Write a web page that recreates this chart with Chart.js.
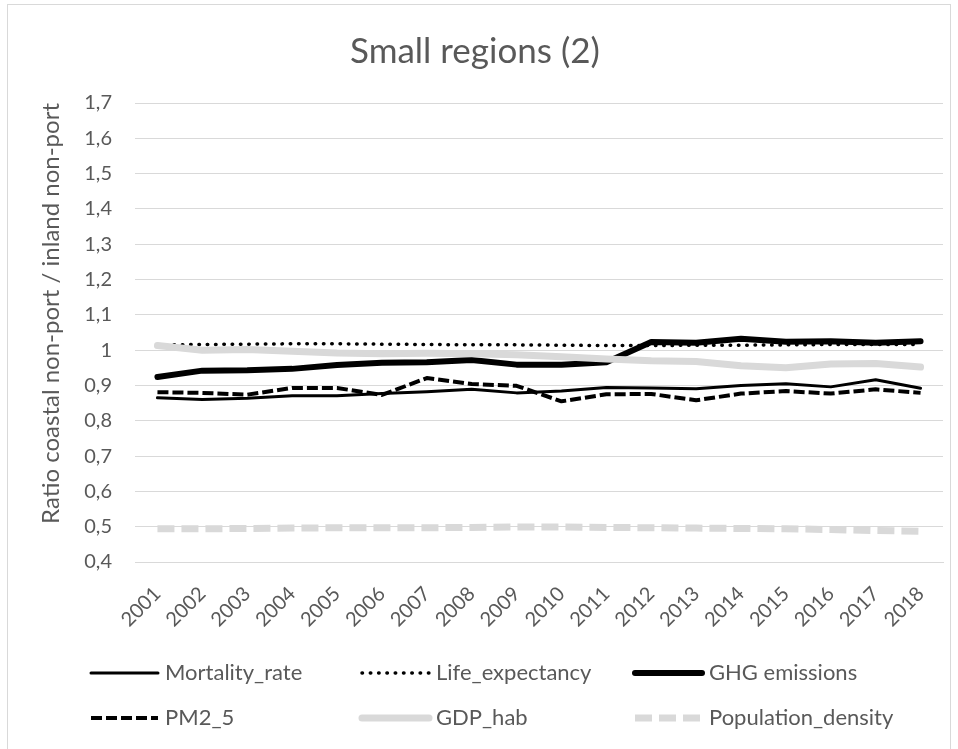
<!DOCTYPE html>
<html lang="en">
<head>
<meta charset="utf-8">
<title>Small regions (2)</title>
<script src="https://cdn.jsdelivr.net/npm/chart.js@4/dist/chart.umd.min.js"></script>
<style>
  html, body { margin: 0; padding: 0; background: #ffffff; }
  canvas { display: block; }
</style>
</head>
<body>
<canvas id="canvas" width="958" height="749"></canvas>
<script>
// values
var years = ['2001', '2002', '2003', '2004', '2005', '2006', '2007', '2008', '2009',
             '2010', '2011', '2012', '2013', '2014', '2015', '2016', '2017', '2018'];
var mortalityRate = [0.865, 0.860, 0.864, 0.871, 0.871, 0.877, 0.882, 0.889, 0.879,
                     0.884, 0.894, 0.893, 0.891, 0.900, 0.905, 0.896, 0.916, 0.892];
var lifeExpectancy = [1.015, 1.016, 1.017, 1.018, 1.018, 1.017, 1.016, 1.015, 1.015,
                      1.014, 1.013, 1.013, 1.014, 1.014, 1.015, 1.016, 1.016, 1.016];
var ghgEmissions = [0.924, 0.942, 0.943, 0.947, 0.958, 0.964, 0.966, 0.972, 0.959,
                    0.959, 0.966, 1.023, 1.021, 1.032, 1.024, 1.025, 1.021, 1.025];
var pm25 = [0.881, 0.879, 0.874, 0.893, 0.893, 0.873, 0.921, 0.904, 0.899,
            0.855, 0.875, 0.876, 0.858, 0.877, 0.884, 0.877, 0.889, 0.879];
var gdpHab = [1.013, 1.000, 1.002, 0.997, 0.992, 0.990, 0.991, 0.990, 0.987,
              0.981, 0.975, 0.970, 0.968, 0.956, 0.950, 0.961, 0.962, 0.952];
var populationDensity = [0.494, 0.494, 0.495, 0.496, 0.497, 0.497, 0.497, 0.498, 0.499,
                         0.499, 0.498, 0.497, 0.496, 0.495, 0.494, 0.492, 0.489, 0.487];
var seriesNames = ['Mortality_rate', 'Life_expectancy', 'GHG emissions',
                   'PM2_5', 'GDP_hab', 'Population_density'];

var textColor = '#595959';
var gridColor = '#d9d9d9';
var fontName = 'Lato, "Open Sans", sans-serif';

function series(i, data, color, width, dash, cap) {
  return {
    label: seriesNames[i],
    data: data,
    borderColor: color,
    backgroundColor: color,
    borderWidth: width,
    borderDash: dash,
    borderCapStyle: cap,
    borderJoinStyle: 'round',
    pointRadius: 0,
    pointHoverRadius: 0,
    tension: 0,
    fill: false,
    order: 6 - i   // later series drawn on top, as in the original
  };
}

// legend laid out in a 3 x 2 grid under the axis, plus the outer frame
var gridLegend = {
  id: 'gridLegend',
  beforeDraw: function(chart) {
    var c = chart.ctx;
    c.save();
    c.strokeStyle = gridColor;
    c.lineWidth = 1;
    c.strokeRect(7.5, 4.5, 943, 760);   // bottom edge falls outside the picture
    c.restore();
  },
  afterDraw: function(chart) {
    var c = chart.ctx;
    var colX = [91, 362, 635];
    var rowY = [673, 718];
    chart.data.datasets.forEach(function(ds, i) {
      var x = colX[i % 3];
      var y = rowY[Math.floor(i / 3)];
      c.save();
      c.strokeStyle = ds.borderColor;
      c.lineWidth = ds.borderWidth;
      c.lineCap = ds.borderCapStyle;
      c.setLineDash(ds.borderDash);
      c.beginPath();
      c.moveTo(x, y);
      c.lineTo(x + 67, y);
      c.stroke();
      c.setLineDash([]);
      c.fillStyle = textColor;
      c.font = '22px ' + fontName;
      c.textBaseline = 'middle';
      c.textAlign = 'left';
      c.fillText(ds.label, x + 74, y);
      c.restore();
    });
  }
};

var ctx = document.getElementById('canvas').getContext('2d');
var chart = new Chart(ctx, {
  type: 'line',
  data: {
    labels: years,
    datasets: [
      series(0, mortalityRate, '#000000', 3, [], 'round'),
      series(1, lifeExpectancy, '#000000', 3.5, [0.5, 7.8], 'round'),
      series(2, ghgEmissions, '#000000', 6, [], 'round'),
      series(3, pm25, '#000000', 4, [11, 4], 'butt'),
      series(4, gdpHab, gridColor, 7, [], 'round'),
      series(5, populationDensity, gridColor, 7, [17, 7], 'butt')
    ]
  },
  options: {
    responsive: false,
    animation: false,
    devicePixelRatio: 1,
    layout: { padding: { left: 7, right: 15, top: 4, bottom: 107 } },
    plugins: {
      legend: { display: false },
      tooltip: { enabled: false },
      title: {
        display: true,
        text: 'Small regions (2)',
        color: textColor,
        font: { family: fontName, size: 35, weight: 'normal' },
        padding: { top: 27, bottom: 30 }
      }
    },
    scales: {
      x: {
        offset: true,
        grid: { display: false, drawTicks: false },
        border: { display: true, color: gridColor, width: 1 },
        ticks: {
          color: textColor,
          font: { family: fontName, size: 20 },
          minRotation: 45,
          maxRotation: 45,
          autoSkip: false,
          padding: 20
        },
        afterFit: function(scale) { scale.height = 80; }
      },
      y: {
        min: 0.4,
        max: 1.7,
        border: { display: false },
        grid: { color: gridColor, lineWidth: 1, drawTicks: false },
        ticks: {
          stepSize: 0.1,
          padding: 23,
          color: textColor,
          font: { family: fontName, size: 20 },
          callback: function(v) { return String(Number(v.toFixed(1))).replace('.', ','); }
        },
        title: {
          display: true,
          text: 'Ratio coastal non-port / inland non-port',
          color: textColor,
          align: 'end',
          font: { family: fontName, size: 24 },
          padding: { top: 30, bottom: 0 }
        },
        afterFit: function(scale) { scale.width = 128; }
      }
    }
  },
  plugins: [gridLegend]
});
</script>
</body>
</html>
